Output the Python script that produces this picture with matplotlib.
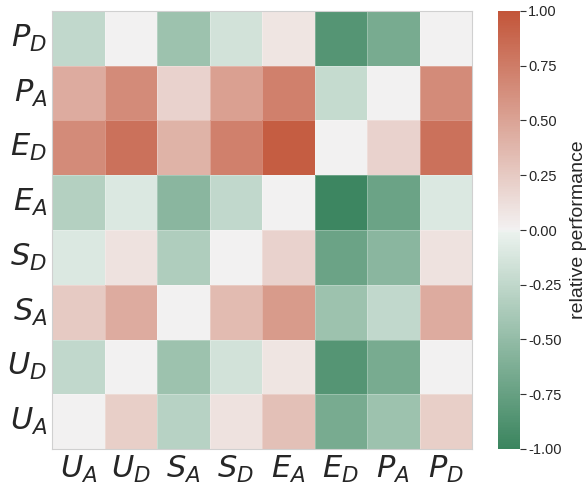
# -*- coding: utf-8 -*-
# 相对性能热力图
import numpy as np
import matplotlib
matplotlib.use('Agg')
import matplotlib.pyplot as plt
import seaborn as sns

# 列、行标签
col_labels = ['$U_A$', '$U_D$', '$S_A$', '$S_D$', '$E_A$', '$E_D$', '$P_A$', '$P_D$']
row_labels = ['$P_D$', '$P_A$', '$E_D$', '$E_A$', '$S_D$', '$S_A$', '$U_D$', '$U_A$']

# 每一行的数值（从上到下）
row_P_D = [-0.25, 0.00, -0.45, -0.15, 0.08, -0.85, -0.65, 0.00]
row_P_A = [0.45, 0.65, 0.20, 0.52, 0.72, -0.22, 0.00, 0.65]
row_E_D = [0.65, 0.82, 0.40, 0.72, 0.95, 0.00, 0.20, 0.82]
row_E_A = [-0.32, -0.10, -0.55, -0.25, 0.00, -0.98, -0.72, -0.10]
row_S_D = [-0.10, 0.10, -0.35, 0.00, 0.20, -0.72, -0.55, 0.10]
row_S_A = [0.25, 0.45, 0.00, 0.35, 0.55, -0.45, -0.25, 0.45]
row_U_D = [-0.25, 0.00, -0.45, -0.15, 0.08, -0.85, -0.65, 0.00]
row_U_A = [0.00, 0.22, -0.30, 0.10, 0.32, -0.65, -0.45, 0.22]


def main():
    data = np.array([row_P_D, row_P_A, row_E_D, row_E_A,
                     row_S_D, row_S_A, row_U_D, row_U_A])
    sns.set_style('white')
    # 颜色条文字用类 Arial 字体
    plt.rcParams['font.family'] = ['Liberation Sans', 'DejaVu Sans']
    plt.rcParams['mathtext.fontset'] = 'dejavusans'
    cmap = sns.diverging_palette(145, 20, as_cmap=True)

    fig = plt.figure(figsize=(5.86, 4.86), dpi=100)
    ax = fig.add_axes([52 / 586, 37 / 486, 420 / 586, 438 / 486])
    cax = fig.add_axes([498 / 586, 37 / 486, 22 / 586, 438 / 486])

    sns.heatmap(data, ax=ax, cbar_ax=cax, cmap=cmap, vmin=-1, vmax=1,
                xticklabels=col_labels, yticklabels=row_labels,
                linewidths=0.6, linecolor=(1, 1, 1, 0.25))
    ax.tick_params(axis='both', labelsize=22, length=0)
    plt.setp(ax.get_yticklabels(), rotation=0)
    plt.setp(ax.get_xticklabels(), rotation=0)

    # 边框
    for s in ax.spines.values():
        s.set_visible(True)
        s.set_color('#d0d0d0')
    cbar = ax.collections[0].colorbar
    cbar.outline.set_edgecolor('#d0d0d0')
    cbar.set_ticks([-1, -0.75, -0.5, -0.25, 0, 0.25, 0.5, 0.75, 1])
    cbar.ax.tick_params(labelsize=10.5, length=4, width=0.8, color='#333333', pad=2)
    cbar.ax.set_yticklabels(['%.2f' % t for t in cbar.get_ticks()])
    cbar.set_label('relative performance', fontsize=14, labelpad=6)

    fig.savefig('out.png', dpi=100)


if __name__ == "__main__":
    main()
